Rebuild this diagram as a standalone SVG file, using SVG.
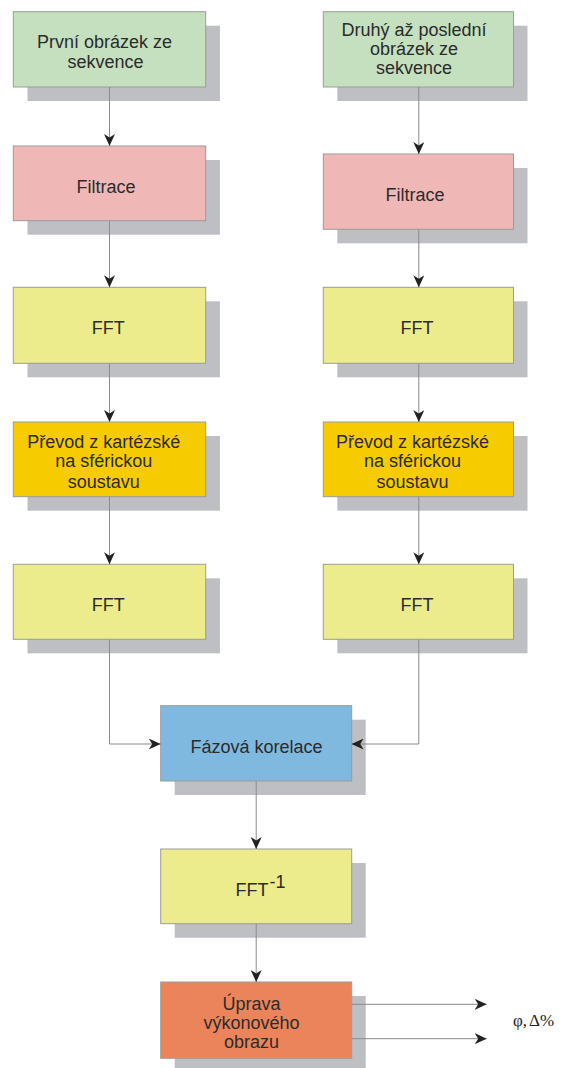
<svg xmlns="http://www.w3.org/2000/svg" width="562" height="1068" viewBox="0 0 562 1068">
<style>
.sh{fill:#bdbfc3}
.bx{stroke:#9c9c9c;stroke-width:1}
.t{font-family:"Liberation Sans",Arial,sans-serif;font-size:18px;fill:#2b2b2b;text-anchor:middle}
.c{fill:none;stroke:#8a8a8a;stroke-width:1}
.s{font-family:"Liberation Serif","Times New Roman",serif;font-size:17px;fill:#222}
.g{fill:#c4e0bf}.p{fill:#f0b7b7}.y{fill:#ecec8c}.o{fill:#f6cc00}.b{fill:#80b9e0}.r{fill:#ec845b}
</style>
<defs>
<marker id="ah" markerUnits="userSpaceOnUse" viewBox="0 0 12 11" refX="12" refY="5.5" markerWidth="12" markerHeight="11" orient="auto">
<path d="M0,0 L12,5.5 L0,11 L3.5,5.5 z" fill="#222"/>
</marker>
</defs>
<rect width="562" height="1068" fill="#fff"/>
<g id="n1">
<rect class="sh" x="27.5" y="25.7" width="192.4" height="75.3"/>
<rect class="bx g" x="13.3" y="11.7" width="192.4" height="75.3"/>
<text class="t" x="104.5" y="48.3">První obrázek ze</text>
<text class="t" x="105.5" y="68.3">sekvence</text>
</g>
<g id="n2">
<rect class="sh" x="337.3" y="25.7" width="190.2" height="75.3"/>
<rect class="bx g" x="323.3" y="11.7" width="190.2" height="75.3"/>
<text class="t" x="414" y="35.7">Druhý až poslední</text>
<text class="t" x="414" y="55">obrázek ze</text>
<text class="t" x="414" y="74">sekvence</text>
</g>
<g id="n3">
<rect class="sh" x="27.5" y="160" width="192.4" height="74.7"/>
<rect class="bx p" x="13.3" y="146" width="192.4" height="74.7"/>
<text class="t" x="106" y="192.7">Filtrace</text>
</g>
<g id="n4">
<rect class="sh" x="337.3" y="168" width="190.2" height="75.3"/>
<rect class="bx p" x="323.3" y="154" width="190.2" height="75.3"/>
<text class="t" x="415" y="201">Filtrace</text>
</g>
<g id="n5">
<rect class="sh" x="27.5" y="301.3" width="192.4" height="76"/>
<rect class="bx y" x="13.3" y="287.3" width="192.4" height="76"/>
<text class="t" x="108.3" y="334.3">FFT</text>
</g>
<g id="n6">
<rect class="sh" x="337.3" y="301.3" width="190.2" height="76"/>
<rect class="bx y" x="323.3" y="287.3" width="190.2" height="76"/>
<text class="t" x="417" y="334.3">FFT</text>
</g>
<g id="n7">
<rect class="sh" x="27.5" y="436" width="192.4" height="74.7"/>
<rect class="bx o" x="13.3" y="422" width="192.4" height="74.7"/>
<text class="t" x="103.7" y="448.3">Převod z kartézské</text>
<text class="t" x="103.7" y="467">na sférickou</text>
<text class="t" x="103.7" y="487.5">soustavu</text>
</g>
<g id="n8">
<rect class="sh" x="337.3" y="436" width="190.2" height="74.7"/>
<rect class="bx o" x="323.3" y="422" width="190.2" height="74.7"/>
<text class="t" x="412.5" y="448.3">Převod z kartézské</text>
<text class="t" x="412.5" y="467">na sférickou</text>
<text class="t" x="412.5" y="487.5">soustavu</text>
</g>
<g id="n9">
<rect class="sh" x="27.5" y="578.3" width="192.4" height="75"/>
<rect class="bx y" x="13.3" y="564.3" width="192.4" height="75"/>
<text class="t" x="108.3" y="611">FFT</text>
</g>
<g id="n10">
<rect class="sh" x="337.3" y="578.3" width="190.2" height="75"/>
<rect class="bx y" x="323.3" y="564.3" width="190.2" height="75"/>
<text class="t" x="417" y="611">FFT</text>
</g>
<g id="n11">
<rect class="sh" x="174.7" y="719.7" width="191" height="75.3"/>
<rect class="bx b" x="160.7" y="705.7" width="191" height="75.3"/>
<text class="t" x="256.5" y="752.7">Fázová korelace</text>
</g>
<g id="n12">
<rect class="sh" x="174.7" y="863" width="191" height="74.7"/>
<rect class="bx y" x="160.7" y="849" width="191" height="74.7"/>
<text class="t" x="252" y="895.7">FFT</text>
<text class="t" x="277.5" y="888">-1</text>
</g>
<g id="n13">
<rect class="sh" x="174.7" y="996" width="191" height="76.3"/>
<rect class="bx r" x="160.7" y="982" width="191" height="76.3"/>
<text class="t" x="251.5" y="1010">Úprava</text>
<text class="t" x="251.5" y="1029">výkonového</text>
<text class="t" x="251.5" y="1048.3">obrazu</text>
</g>
<g id="out">
<text class="s" x="513" y="1026">φ,</text>
<text class="s" x="529" y="1026">Δ%</text>
</g>
<g id="connectors">
<path class="c" d="M109.5,87 V146" marker-end="url(#ah)"/>
<path class="c" d="M418.8,87 V154" marker-end="url(#ah)"/>
<path class="c" d="M109.5,220.7 V287.3" marker-end="url(#ah)"/>
<path class="c" d="M418.8,229.3 V287.3" marker-end="url(#ah)"/>
<path class="c" d="M109.5,363.3 V422" marker-end="url(#ah)"/>
<path class="c" d="M418.8,363.3 V422" marker-end="url(#ah)"/>
<path class="c" d="M109.5,496.7 V564.3" marker-end="url(#ah)"/>
<path class="c" d="M418.8,496.7 V564.3" marker-end="url(#ah)"/>
<path class="c" d="M109.5,639.3 V744 H160.7" marker-end="url(#ah)"/>
<path class="c" d="M418.8,639.3 V744 H351.7" marker-end="url(#ah)"/>
<path class="c" d="M256.2,781 V849" marker-end="url(#ah)"/>
<path class="c" d="M256.2,923.7 V982" marker-end="url(#ah)"/>
<path class="c" d="M351.7,1004.3 H486.7" marker-end="url(#ah)"/>
<path class="c" d="M351.7,1038.7 H486.7" marker-end="url(#ah)"/>
</g>
</svg>
